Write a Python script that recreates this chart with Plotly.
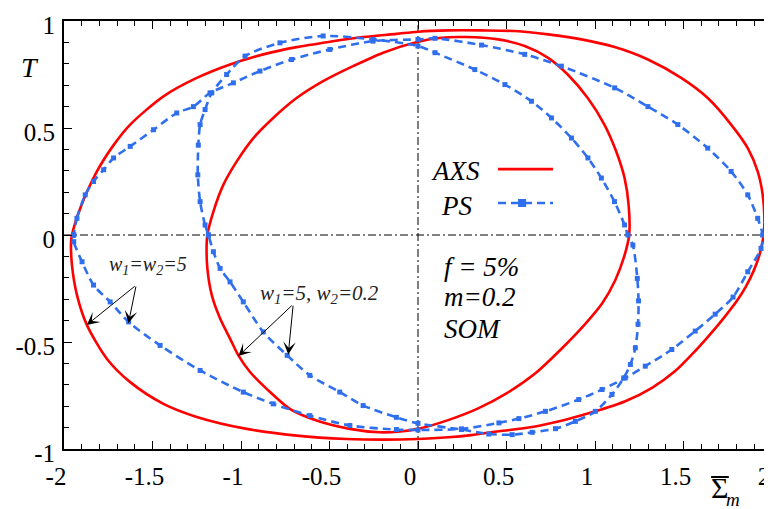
import plotly.graph_objects as go

# ---------------- data ----------------
# AXS, w1 = w2 = 5 (outer red loop)
axs_55_x = [-1.955, -1.908, -1.814, -1.72, -1.626, -1.438, -1.25, -1.062, -0.874, -0.686, -0.498, -0.31, -0.122, 0.0,
            0.171, 0.359, 0.547, 0.735, 0.923, 1.111, 1.299, 1.487, 1.637, 1.769, 1.863, 1.919, 1.947, 1.957, 1.953,
            1.929, 1.895, 1.85, 1.80, 1.735, 1.66, 1.566, 1.453, 1.322, 1.171, 1.002, 0.833, 0.645, 0.457, 0.3, 0.171, 0.0,
            -0.197, -0.404, -0.686, -0.968, -1.25, -1.438, -1.626, -1.758, -1.871, -1.927, -1.955, -1.96, -1.955]
axs_55_y = [0.0, 0.125, 0.297, 0.42, 0.516, 0.648, 0.734, 0.797, 0.844, 0.878, 0.903, 0.925, 0.94, 0.95,
            0.956, 0.956, 0.953, 0.9375, 0.914, 0.878, 0.82, 0.734, 0.64, 0.516, 0.406, 0.297, 0.19, 0.0625, 0.0,
            -0.094, -0.17, -0.245, -0.31, -0.38, -0.455, -0.542, -0.636, -0.714, -0.777, -0.824, -0.863, -0.897, -0.917, -0.935, -0.945, -0.953,
            -0.956, -0.953, -0.9375, -0.906, -0.85, -0.789, -0.6875, -0.578, -0.42, -0.28, -0.14, -0.031, 0.0]

# AXS, w1 = 5, w2 = 0.2 (inner red loop)
axs_502_x = [-1.19, -1.156, -1.1, -1.024, -0.93, -0.818, -0.686, -0.536, -0.367, -0.197, 0.0, 0.133, 0.265, 0.453, 0.603,
             0.735, 0.846, 0.959, 1.053, 1.12, 1.167, 1.19, 1.193, 1.165, 1.115, 1.04, 0.94, 0.825, 0.665, 0.5, 0.34,
             0.17, 0.0, -0.1, -0.216, -0.385, -0.573, -0.724, -0.855, -0.949, -1.015, -1.062, -1.118, -1.165, -1.19, -1.194, -1.19]
axs_502_y = [0.0, 0.109, 0.234, 0.344, 0.453, 0.547, 0.64, 0.719, 0.789, 0.852, 0.903, 0.922, 0.925, 0.914, 0.883,
             0.828, 0.75, 0.64, 0.516, 0.39, 0.266, 0.14, 0.0, -0.1, -0.21, -0.32, -0.42, -0.52, -0.645, -0.74, -0.81,
             -0.865, -0.906, -0.918, -0.922, -0.906, -0.867, -0.8125, -0.719, -0.64, -0.5625, -0.484, -0.39, -0.281, -0.156, -0.04, 0.0]

# PS, w1 = w2 = 5 (blue loop through the outer crossings)
ps_55_x = [-1.945, -1.927, -1.88, -1.833, -1.776, -1.72, -1.626, -1.494, -1.363, -1.269, -1.175, -1.043, -0.893, -0.714,
           -0.498, -0.254, 0.0, 0.096, 0.359, 0.603, 0.81, 1.111, 1.299, 1.468, 1.637, 1.769, 1.863, 1.919, 1.947,
           1.938, 1.863, 1.78, 1.679, 1.566, 1.434, 1.284, 1.171, 1.04, 0.908, 0.72, 0.57, 0.457, 0.246, 0.0,
           -0.122, -0.385, -0.611, -0.818, -0.987, -1.231, -1.457, -1.635, -1.739, -1.833, -1.898, -1.945, -1.945]
ps_55_y = [0.0, 0.078, 0.1875, 0.25, 0.305, 0.36, 0.414, 0.492, 0.57, 0.6, 0.664, 0.711, 0.766, 0.82,
           0.867, 0.906, 0.914, 0.919, 0.8875, 0.844, 0.789, 0.6875, 0.6, 0.516, 0.406, 0.297, 0.1875, 0.078, 0.0,
           -0.0625, -0.172, -0.29, -0.37, -0.449, -0.535, -0.613, -0.668, -0.722, -0.769, -0.824, -0.858, -0.878, -0.906, -0.911,
           -0.909, -0.89, -0.844, -0.789, -0.734, -0.633, -0.516, -0.406, -0.3125, -0.234, -0.125, -0.031, 0.0]

# PS, w1 = 5, w2 = 0.2 (blue loop through the inner crossings)
ps_502_x = [-1.184, -1.203, -1.231, -1.244, -1.241, -1.231, -1.203, -1.165, -1.081, -0.977, -0.78, -0.536, -0.254, 0.0,
            0.096, 0.321, 0.491, 0.641, 0.754, 0.867, 0.96, 1.036, 1.11, 1.167, 1.186,
            1.214, 1.239, 1.246, 1.243, 1.228, 1.2, 1.162, 1.096, 1.002, 0.889, 0.777, 0.645, 0.532, 0.4, 0.246, 0.0,
            -0.122, -0.31, -0.442, -0.611, -0.739, -0.874, -0.987, -1.062, -1.118, -1.156, -1.184]
ps_502_y = [0.0, 0.047, 0.156, 0.281, 0.42, 0.516, 0.586, 0.664, 0.75, 0.836, 0.898, 0.93, 0.914, 0.883,
            0.852, 0.773, 0.703, 0.625, 0.547, 0.453, 0.36, 0.266, 0.156, 0.047, 0.0,
            -0.047, -0.203, -0.308, -0.417, -0.527, -0.605, -0.668, -0.745, -0.824, -0.871, -0.905, -0.922, -0.933, -0.93, -0.909, -0.88,
            -0.852, -0.797, -0.734, -0.656, -0.5625, -0.453, -0.3125, -0.219, -0.156, -0.078, 0.0]

x_tickvals = [-2, -1.5, -1, -0.5, 0, 0.5, 1, 1.5, 2]
x_ticktext = ["-2", "-1.5", "-1", "-0.5", "0", "0.5", "1", "1.5", "2"]
y_tickvals = [-1, -0.5, 0, 0.5, 1]
y_ticktext = ["-1", "-0.5", "0", "0.5", "1"]

# ---------------- styling ----------------
RED = "#ff0000"
BLUE = "#2f6fee"
SERIF = "Liberation Serif, Times New Roman, serif"

fig = go.Figure()

for xs, ys in [(axs_55_x, axs_55_y), (axs_502_x, axs_502_y)]:
    fig.add_trace(go.Scatter(x=xs, y=ys, mode="lines",
                             line=dict(color=RED, width=2.6, shape="spline", smoothing=0.8),
                             showlegend=False, hoverinfo="skip"))

for xs, ys in [(ps_55_x, ps_55_y), (ps_502_x, ps_502_y)]:
    fig.add_trace(go.Scatter(x=xs, y=ys, mode="lines+markers",
                             line=dict(color=BLUE, width=2.6, dash="8px,5px", shape="spline", smoothing=0.8),
                             marker=dict(symbol="square", size=5, color=BLUE),
                             showlegend=False, hoverinfo="skip"))

# dash-dot zero lines
fig.add_shape(type="line", xref="x", yref="paper", x0=0, x1=0, y0=0, y1=1,
              line=dict(color="black", width=1, dash="8px,3px,2px,3px"), layer="below")
fig.add_shape(type="line", xref="paper", yref="y", x0=0, x1=1, y0=0, y1=0,
              line=dict(color="black", width=1, dash="8px,3px,2px,3px"), layer="below")

# legend (drawn by hand: text left of the sample)
fig.add_annotation(x=0.214, y=0.297, xref="x", yref="y", text="<i>AXS</i>", showarrow=False,
                   font=dict(family=SERIF, size=27, color="black"), xanchor="center", yanchor="middle")
fig.add_annotation(x=0.22, y=0.137, xref="x", yref="y", text="<i>PS</i>", showarrow=False,
                   font=dict(family=SERIF, size=27, color="black"), xanchor="center", yanchor="middle")
fig.add_shape(type="line", xref="paper", yref="paper", x0=0.613, x1=0.6907, y0=0.654, y1=0.654,
              line=dict(color=RED, width=2.6))
fig.add_shape(type="line", xref="paper", yref="paper", x0=0.613, x1=0.6907, y0=0.5748, y1=0.5748,
              line=dict(color=BLUE, width=2.6, dash="8px,5px"))
fig.add_shape(type="rect", xref="paper", yref="paper", x0=0.6413, x1=0.6527, y0=0.5655, y1=0.5841,
              line=dict(width=0), fillcolor=BLUE)

# parameter text
for txt, yy in [("<i>f</i> <i>=</i> <i>5%</i>", -0.149), ("<i>m=0.2</i>", -0.289), ("<i>SOM</i>", -0.439)]:
    fig.add_annotation(x=0.135, y=yy, xref="x", yref="y", text=txt, showarrow=False,
                       font=dict(family=SERIF, size=27, color="black"), xanchor="left", yanchor="middle")

# case labels
fig.add_annotation(x=-1.523, y=-0.143, xref="x", yref="y",
                   text="<i>w<sub>1</sub>=w<sub>2</sub>=5</i>", showarrow=False,
                   font=dict(family=SERIF, size=20, color="#222222"), xanchor="center", yanchor="middle")
fig.add_annotation(x=-0.558, y=-0.275, xref="x", yref="y",
                   text="<i>w<sub>1</sub>=5, w<sub>2</sub>=0.2</i>", showarrow=False,
                   font=dict(family=SERIF, size=21, color="#222222"), xanchor="center", yanchor="middle")

# arrows
arrows = [((-1.592, -0.234), (-1.871, -0.42)),
          ((-1.592, -0.234), (-1.636, -0.4125)),
          ((-0.705, -0.3235), (-1.015, -0.566)),
          ((-0.705, -0.3235), (-0.733, -0.558))]
for (tx, ty), (hx, hy) in arrows:
    fig.add_annotation(x=hx, y=hy, ax=tx, ay=ty, xref="x", yref="y", axref="x", ayref="y",
                       text="", showarrow=True, arrowhead=3, arrowsize=2.1, arrowwidth=1,
                       arrowcolor="black", standoff=0)

# axis titles
fig.add_annotation(x=-0.048, y=0.8925, xref="paper", yref="paper", text="<i>T</i>", showarrow=False,
                   font=dict(family=SERIF, size=28, color="black"), xanchor="center", yanchor="middle")
fig.add_annotation(x=0.926, y=-0.091, xref="paper", yref="paper", text="Σ", showarrow=False,
                   font=dict(family=SERIF, size=30, color="black"), xanchor="center", yanchor="middle")
fig.add_annotation(x=0.945, y=-0.117, xref="paper", yref="paper", text="<i>m</i>", showarrow=False,
                   font=dict(family=SERIF, size=19, color="black"), xanchor="center", yanchor="middle")
fig.add_shape(type="line", xref="paper", yref="paper", x0=0.914, x1=0.939, y0=-0.0654, y1=-0.0654,
              line=dict(color="black", width=2))

axis_common = dict(showline=True, linecolor="black", linewidth=2, mirror="allticks",
                   ticks="inside", ticklen=8, tickwidth=1.3, tickcolor="black",
                   showgrid=False, zeroline=False, automargin=False,
                   tickfont=dict(family=SERIF, size=25, color="black"),
                   tickmode="array")

fig.update_xaxes(**axis_common, range=[-2, 2], tickvals=x_tickvals, ticktext=x_ticktext,
                 ticklabelstandoff=4, ticklabelshift=-8,
                 minor=dict(tickmode="linear", tick0=0, dtick=0.1, ticks="inside", ticklen=5,
                            tickwidth=1, tickcolor="black", showgrid=False))
fig.update_yaxes(**axis_common, range=[-1, 1], tickvals=y_tickvals, ticktext=y_ticktext,
                 ticklabelstandoff=2, ticklabelshift=4,
                 minor=dict(tickmode="linear", tick0=0, dtick=0.1, ticks="inside", ticklen=5,
                            tickwidth=1, tickcolor="black", showgrid=False))

# the page body adds an 8px margin, so the figure is 8px smaller and margins shifted accordingly
fig.update_layout(width=764, height=501, template="none",
                  margin=dict(l=56, r=0, t=13, b=60),
                  paper_bgcolor="white", plot_bgcolor="white", showlegend=False)

fig.write_html("out.html")
